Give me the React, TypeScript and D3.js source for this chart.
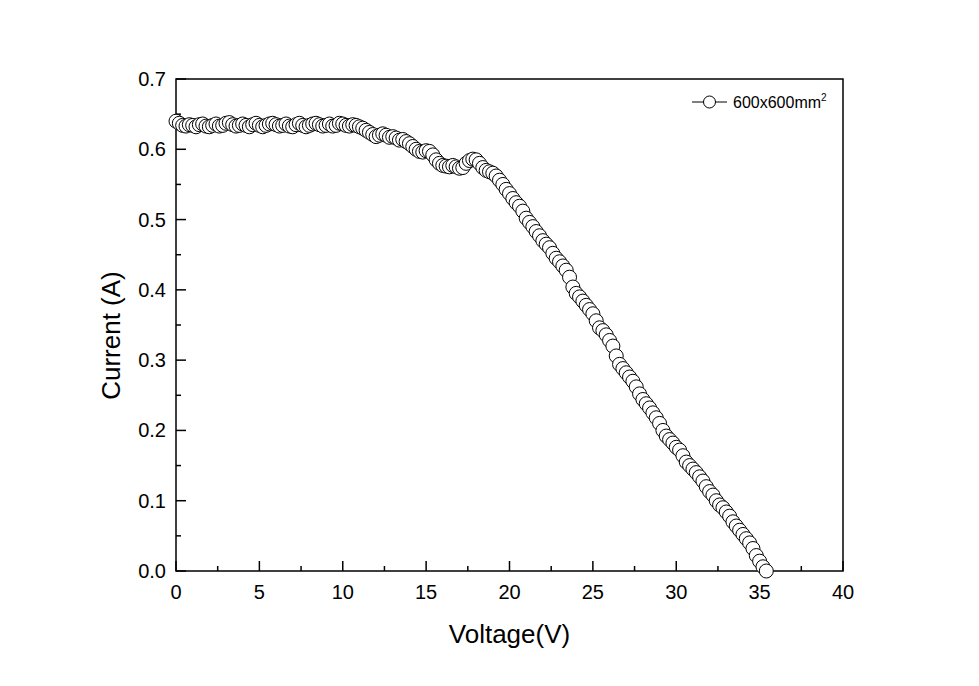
import { useEffect, useRef } from "react";
import * as d3 from "d3";

// Measured I-V curve, 600x600mm2 panel
const voltage: number[] = [
  0.0, 0.2, 0.4, 0.6, 0.8, 1.0, 1.2, 1.4, 1.6, 1.8, 2.0, 2.2, 2.4, 2.6, 2.8, 3.0, 3.2, 3.4, 3.6, 3.8,
  4.0, 4.2, 4.4, 4.6, 4.8, 5.0, 5.2, 5.4, 5.6, 5.8, 6.0, 6.2, 6.4, 6.6, 6.8, 7.0, 7.2, 7.4, 7.6, 7.8,
  8.0, 8.2, 8.4, 8.6, 8.8, 9.0, 9.2, 9.4, 9.6, 9.8, 10.0, 10.2, 10.4, 10.6, 10.8, 11.0, 11.2, 11.4, 11.6, 11.8,
  12.0, 12.2, 12.4, 12.6, 12.8, 13.0, 13.2, 13.4, 13.6, 13.8, 14.0, 14.2, 14.4, 14.6, 14.8, 15.0, 15.2, 15.4, 15.6, 15.8,
  16.0, 16.2, 16.4, 16.6, 16.8, 17.0, 17.2, 17.4, 17.6, 17.8, 18.0, 18.2, 18.4, 18.6, 18.8, 19.0, 19.2, 19.4, 19.6, 19.8,
  20.0, 20.2, 20.4, 20.6, 20.8, 21.0, 21.2, 21.4, 21.6, 21.8, 22.0, 22.2, 22.4, 22.6, 22.8, 23.0, 23.2, 23.4, 23.6, 23.8,
  24.0, 24.2, 24.4, 24.6, 24.8, 25.0, 25.2, 25.4, 25.6, 25.8, 26.0, 26.2, 26.4, 26.6, 26.8, 27.0, 27.2, 27.4, 27.6, 27.8,
  28.0, 28.2, 28.4, 28.6, 28.8, 29.0, 29.2, 29.4, 29.6, 29.8, 30.0, 30.2, 30.4, 30.6, 30.8, 31.0, 31.2, 31.4, 31.6, 31.8,
  32.0, 32.2, 32.4, 32.6, 32.8, 33.0, 33.2, 33.4, 33.6, 33.8, 34.0, 34.2, 34.4, 34.6, 34.8, 35.0, 35.2, 35.4,
];

const current: number[] = [
  0.640, 0.637, 0.634, 0.633, 0.635, 0.634, 0.632, 0.635, 0.636, 0.633, 0.632, 0.634, 0.636, 0.633, 0.634, 0.637, 0.638, 0.635, 0.633, 0.634,
  0.636, 0.634, 0.632, 0.635, 0.637, 0.634, 0.632, 0.634, 0.636, 0.637, 0.635, 0.633, 0.634, 0.636, 0.633, 0.632, 0.635, 0.637, 0.634, 0.632,
  0.634, 0.636, 0.637, 0.635, 0.633, 0.634, 0.636, 0.633, 0.634, 0.637, 0.636, 0.634, 0.633, 0.635, 0.634, 0.632, 0.630, 0.627, 0.624, 0.621,
  0.618, 0.620, 0.622, 0.620, 0.617, 0.618, 0.616, 0.613, 0.614, 0.611, 0.608, 0.604, 0.600, 0.597, 0.596, 0.598, 0.597, 0.592, 0.585, 0.580,
  0.577, 0.576, 0.575, 0.577, 0.575, 0.573, 0.574, 0.580, 0.584, 0.586, 0.585, 0.580, 0.574, 0.570, 0.568, 0.566, 0.562, 0.556, 0.550, 0.543,
  0.537, 0.530, 0.524, 0.519, 0.512, 0.502, 0.496, 0.490, 0.483, 0.477, 0.470, 0.465, 0.460, 0.452, 0.445, 0.440, 0.434, 0.428, 0.418, 0.404,
  0.395, 0.390, 0.384, 0.378, 0.372, 0.366, 0.356, 0.346, 0.342, 0.336, 0.328, 0.320, 0.306, 0.294, 0.288, 0.282, 0.276, 0.270, 0.262, 0.252,
  0.244, 0.238, 0.232, 0.225, 0.218, 0.210, 0.200, 0.192, 0.187, 0.182, 0.176, 0.172, 0.164, 0.155, 0.150, 0.145, 0.140, 0.134, 0.128, 0.120,
  0.113, 0.108, 0.100, 0.094, 0.090, 0.084, 0.078, 0.070, 0.064, 0.058, 0.052, 0.046, 0.040, 0.032, 0.022, 0.014, 0.006, 0.000,
];

const xTicks: number[] = [0, 5, 10, 15, 20, 25, 30, 35, 40];
const yTicks: number[] = [0.0, 0.1, 0.2, 0.3, 0.4, 0.5, 0.6, 0.7];
const seriesName = "600x600mm";

const FONT = "'Liberation Sans', Arial, sans-serif";

export default function App(): JSX.Element {
  const svgRef = useRef<SVGSVGElement>(null);
  const width = 979;
  const height = 686;

  useEffect(() => {
    const svg = d3.select(svgRef.current);
    svg.selectAll("*").remove();

    const left = 176, right = 843, top = 79, bottom = 571;

    const x = d3.scaleLinear().domain([0, 40]).range([left, right]);
    const y = d3.scaleLinear().domain([0, 0.7]).range([bottom, top]);

    const g = svg.append("g");

    // minor ticks at half steps, major every other one
    const xMinor = d3.range(0, 40.001, 2.5);
    const yMinor = d3.range(0, 0.7001, 0.05);

    g.selectAll(".xmin").data(xMinor).enter().append("line")
      .attr("x1", d => x(d)).attr("x2", d => x(d))
      .attr("y1", bottom).attr("y2", (d, i) => bottom - (i % 2 === 0 ? 10 : 5))
      .attr("stroke", "#000").attr("stroke-width", 1.5);

    g.selectAll(".ymin").data(yMinor).enter().append("line")
      .attr("y1", d => y(d)).attr("y2", d => y(d))
      .attr("x1", left).attr("x2", (d, i) => left + (i % 2 === 0 ? 10 : 5))
      .attr("stroke", "#000").attr("stroke-width", 1.5);

    // frame
    g.append("rect")
      .attr("x", left).attr("y", top)
      .attr("width", right - left).attr("height", bottom - top)
      .attr("fill", "none").attr("stroke", "#000").attr("stroke-width", 1.5);

    // tick labels
    g.selectAll(".xl").data(xTicks).enter().append("text")
      .attr("x", d => x(d)).attr("y", bottom + 28)
      .attr("text-anchor", "middle")
      .attr("font-family", FONT).attr("font-size", 20)
      .text(d => String(d));

    g.selectAll(".yl").data(yTicks).enter().append("text")
      .attr("x", left - 10).attr("y", d => y(d) + 7)
      .attr("text-anchor", "end")
      .attr("font-family", FONT).attr("font-size", 20)
      .text(d => d.toFixed(1));

    // axis titles
    g.append("text")
      .attr("x", x(20)).attr("y", 643)
      .attr("text-anchor", "middle")
      .attr("font-family", FONT).attr("font-size", 26)
      .text("Voltage(V)");

    g.append("text")
      .attr("transform", `translate(120,${y(0.335)}) rotate(-90)`)
      .attr("text-anchor", "middle")
      .attr("font-family", FONT).attr("font-size", 26)
      .text("Current (A)");

    // data
    const pts: [number, number][] = voltage.map((v, i) => [v, current[i]]);
    const line = d3.line<[number, number]>()
      .x(d => x(d[0]))
      .y(d => y(d[1]));

    g.append("path")
      .attr("d", line(pts))
      .attr("fill", "none")
      .attr("stroke", "#000")
      .attr("stroke-width", 1);

    g.selectAll(".pt").data(pts).enter().append("circle")
      .attr("cx", d => x(d[0])).attr("cy", d => y(d[1]))
      .attr("r", 7)
      .attr("fill", "#fff")
      .attr("stroke", "#000")
      .attr("stroke-width", 1);

    // legend
    const ly = 102;
    g.append("line")
      .attr("x1", 692).attr("x2", 727).attr("y1", ly).attr("y2", ly)
      .attr("stroke", "#000").attr("stroke-width", 1);
    g.append("circle")
      .attr("cx", 709.5).attr("cy", ly).attr("r", 6)
      .attr("fill", "#fff").attr("stroke", "#000").attr("stroke-width", 1);
    const lt = g.append("text")
      .attr("x", 733).attr("y", ly + 6)
      .attr("font-family", FONT).attr("font-size", 16)
      .text(seriesName);
    lt.append("tspan")
      .attr("dy", -7).attr("font-size", 10)
      .text("2");
  }, []);

  return (
    <svg
      ref={svgRef}
      width={width}
      height={height}
      style={{ position: "absolute", left: 0, top: 0, background: "#fff" }}
    />
  );
}
